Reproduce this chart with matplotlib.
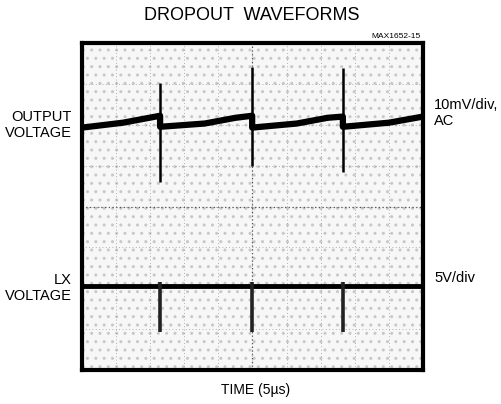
import matplotlib.pyplot as plt
from matplotlib.patches import Rectangle

plt.rcParams['font.family'] = ['Liberation Sans', 'DejaVu Sans']

# time in divisions (5us/div), voltage in divisions
out_t = [0, 1.2, 2.29, 2.29, 3.6, 4.5, 4.99, 4.99, 6.3, 7.2, 7.65, 7.65, 9.0, 10]
out_v = [1.93, 2.05, 2.22, 1.95, 2.03, 2.17, 2.22, 1.93, 2.03, 2.17, 2.2, 1.95, 2.05, 2.2]

spike_t = [2.29, 4.99, 7.65]
out_spike_top = [3.02, 3.41, 3.39]
out_spike_bot = [0.61, 0.98, 0.85]

lx_t = [0, 10]
lx_v = [-1.95, -1.95]
lx_spike_bot = [-3.07, -3.07, -3.07]

fig = plt.figure(figsize=(5.02, 4.04), dpi=100)
ax = fig.add_axes([82/502, 34/404, 341/502, 327/404])
ax.set_xlim(0, 10)
ax.set_ylim(-4, 4)

# stippled scope background
ax.add_patch(Rectangle((0, -4), 10, 8, facecolor='#f7f7f7', edgecolor='#c8c8c8',
                       hatch='..', linewidth=0, zorder=0))

# graticule
for x in range(1, 10):
    ax.axvline(x, color='#9a9a9a', lw=0.6, ls=(0, (1, 3)), zorder=1)
for y in range(-3, 4):
    ax.axhline(y, color='#9a9a9a', lw=0.6, ls=(0, (1, 3)), zorder=1)
ax.axvline(5, color='#555555', lw=0.9, ls=(0, (1, 2)), zorder=1)
ax.axhline(0, color='#555555', lw=0.9, ls=(0, (1, 2)), zorder=1)

# traces
ax.plot(out_t, out_v, color='black', lw=4.5, solid_joinstyle='round', zorder=3)
ax.vlines(spike_t, out_spike_bot, out_spike_top, color='black', lw=1.8, zorder=3)
ax.plot(lx_t, lx_v, color='black', lw=3.5, zorder=3)
ax.vlines(spike_t, lx_spike_bot, [-1.85] * 3, color='#222222', lw=2.6, zorder=3)

ax.set_xticks([])
ax.set_yticks([])
for s in ax.spines.values():
    s.set_linewidth(3)

fig.text(252/502, 1 - 16/404, 'DROPOUT  WAVEFORMS', ha='center', va='center', fontsize=13)
fig.text(421/502, 1 - 37/404, 'MAX1652-15', ha='right', va='center', fontsize=6)
fig.text(72/502, 1 - 125/404, 'OUTPUT\nVOLTAGE', ha='right', va='center',
         fontsize=10.5, linespacing=1.25)
fig.text(72/502, 1 - 288/404, 'LX\nVOLTAGE', ha='right', va='center',
         fontsize=10.5, linespacing=1.25)
fig.text(434/502, 1 - 113/404, '10mV/div,\nAC', ha='left', va='center',
         fontsize=10.5, linespacing=1.25)
fig.text(434/502, 1 - 278/404, '5V/div', ha='left', va='center', fontsize=10.5)
fig.text(256/502, 1 - 390/404, 'TIME (5µs)', ha='center', va='center', fontsize=10)

fig.savefig('out.png', dpi=100)
